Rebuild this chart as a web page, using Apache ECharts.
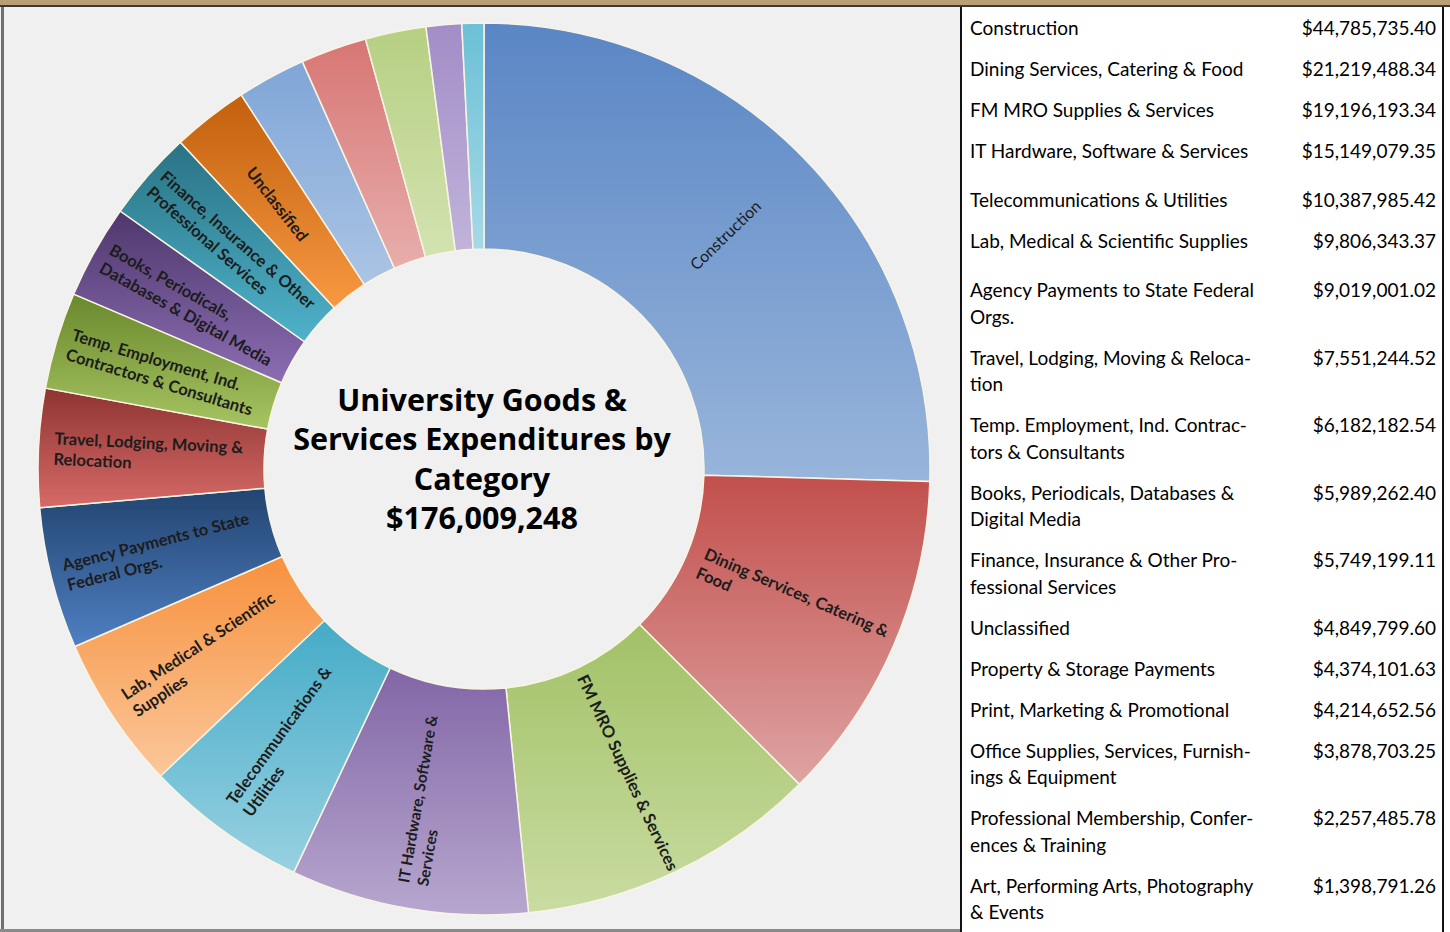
<!DOCTYPE html>
<html>
<head>
<meta charset="utf-8">
<script src="https://cdn.jsdelivr.net/npm/echarts@6/dist/echarts.min.js"></script>
<style>
  html, body { margin:0; padding:0; width:1450px; height:932px; overflow:hidden; background:#ffffff; }
  #chart { position:absolute; left:0; top:0; width:960px; height:932px; background:#f0f0f0; }
  .bar { position:absolute; }
  #table { position:absolute; left:962px; top:8px; width:480px; font-family:'Lato', sans-serif; font-size:19px; color:#000; }
  .row { display:flex; justify-content:space-between; padding:7px 6px 7.5px 8px; line-height:26.5px; }
  .row .lab { white-space:pre; }
  .row .val { text-align:right; }
</style>
</head>
<body>
<div id="chart"></div>
<div class="bar" style="left:0;top:0;width:1450px;height:5px;background:#b99e76;"></div>
<div class="bar" style="left:0;top:5px;width:1450px;height:2px;background:#3a3935;"></div>
<div class="bar" style="left:1px;top:7px;width:3px;height:925px;background:#707070;"></div>
<div class="bar" style="left:0;top:929px;width:960px;height:3px;background:#8a8a8a;"></div>
<div class="bar" style="left:960px;top:7px;width:2px;height:925px;background:#111;"></div>
<div class="bar" style="left:1442px;top:7px;width:2px;height:925px;background:#111;"></div>
<div id="table"></div>
<script>
// ---- data ----
const categories = [
  'Construction',
  'Dining Services, Catering & Food',
  'FM MRO Supplies & Services',
  'IT Hardware, Software & Services',
  'Telecommunications & Utilities',
  'Lab, Medical & Scientific Supplies',
  'Agency Payments to State Federal Orgs.',
  'Travel, Lodging, Moving & Relocation',
  'Temp. Employment, Ind. Contractors & Consultants',
  'Books, Periodicals, Databases & Digital Media',
  'Finance, Insurance & Other Professional Services',
  'Unclassified',
  'Property & Storage Payments',
  'Print, Marketing & Promotional',
  'Office Supplies, Services, Furnishings & Equipment',
  'Professional Membership, Conferences & Training',
  'Art, Performing Arts, Photography & Events'
];
const values = [
  44785735.40, 21219488.34, 19196193.34, 15149079.35, 10387985.42,
  9806343.37, 9019001.02, 7551244.52, 6182182.54, 5989262.40,
  5749199.11, 4849799.60, 4374101.63, 4214652.56, 3878703.25,
  2257485.78, 1398791.26
];
const sliceLabels = [
  'Construction',
  'Dining Services, Catering &\nFood',
  'FM MRO Supplies & Services',
  'IT Hardware, Software &\nServices',
  'Telecommunications &\nUtilities',
  'Lab, Medical & Scientific\nSupplies',
  'Agency Payments to State\nFederal Orgs.',
  'Travel, Lodging, Moving &\nRelocation',
  'Temp. Employment, Ind.\nContractors & Consultants',
  'Books, Periodicals,\nDatabases & Digital Media',
  'Finance, Insurance & Other\nProfessional Services',
  'Unclassified',
  '', '', '', '', ''
];
const tableLabels = [
  'Construction',
  'Dining Services, Catering & Food',
  'FM MRO Supplies & Services',
  'IT Hardware, Software & Services',
  'Telecommunications & Utilities',
  'Lab, Medical & Scientific Supplies',
  'Agency Payments to State Federal\nOrgs.',
  'Travel, Lodging, Moving & Reloca-\ntion',
  'Temp. Employment, Ind. Contrac-\ntors & Consultants',
  'Books, Periodicals, Databases &\nDigital Media',
  'Finance, Insurance & Other Pro-\nfessional Services',
  'Unclassified',
  'Property & Storage Payments',
  'Print, Marketing & Promotional',
  'Office Supplies, Services, Furnish-\nings & Equipment',
  'Professional Membership, Confer-\nences & Training',
  'Art, Performing Arts, Photography\n& Events'
];
const titleLines = ['University Goods &', 'Services Expenditures by', 'Category'];

// ---- styles ----
const palette = [
  ['#5a86c5', '#98b5db'],
  ['#c24f4c', '#dea4a3'],
  ['#a2c166', '#c9dca2'],
  ['#8266a6', '#b7a7cf'],
  ['#45abc7', '#98d1e1'],
  ['#f7913e', '#fbc79a'],
  ['#22446f', '#4f7fc3'],
  ['#8e3432', '#d66a67'],
  ['#6a892d', '#a6c461'],
  ['#4f386d', '#8b6db2'],
  ['#297384', '#4fb2ca'],
  ['#c2600d', '#f89841'],
  ['#7fa6d8', '#abc4e3'],
  ['#d77674', '#e7aeac'],
  ['#b6cf82', '#d3e3b1'],
  ['#a28dc7', '#c1b3da'],
  ['#6cc0d6', '#a6d9e7']
];
function labelRich(size, weight) {
  return { l: { fontFamily: 'Lato', fontWeight: weight, fontSize: size, lineHeight: size + 4, color: '#1c1c1c', align: 'left' } };
}
const labelSizes = { 0: [16, 'normal'], 3: [15.5, 'bold'] };

const total = values.reduce((a, b) => a + b, 0);
const totalText = '$' + Math.floor(total).toLocaleString('en-US');

const chart = echarts.init(document.getElementById('chart'), null, { renderer: 'svg' });
chart.setOption({
  backgroundColor: '#f0f0f0',
  animation: false,
  graphic: [{
    type: 'text',
    x: 482,
    y: 379,
    silent: true,
    style: {
      text: titleLines.concat([totalText]).join('\n'),
      align: 'center',
      verticalAlign: 'top',
      fontFamily: 'Open Sans',
      fontWeight: 'bold',
      fontSize: 30.5,
      lineHeight: 39.5,
      fill: '#000'
    }
  }],
  series: [{
    type: 'pie',
    center: [484, 469],
    radius: [220, 446],
    startAngle: 90,
    clockwise: true,
    avoidLabelOverlap: false,
    silent: true,
    itemStyle: { borderColor: '#f8f4e4', borderWidth: 1.5 },
    labelLine: { show: false },
    label: {
      show: true,
      position: 'inside',
      rotate: 'radial',
      formatter: p => sliceLabels[p.dataIndex].split('\n').map(s => '{l|' + s + '}').join('\n'),
      rich: labelRich(16.5, 'bold')
    },
    data: categories.map((c, i) => {
      const ls = labelSizes[i] || [16.5, 'bold'];
      return {
        name: c,
        value: values[i],
        itemStyle: {
          color: {
            type: 'linear', x: 0, y: 0, x2: 0, y2: 1,
            colorStops: [{ offset: 0, color: palette[i][0] }, { offset: 1, color: palette[i][1] }]
          }
        },
        label: { show: sliceLabels[i] !== '', rich: labelRich(ls[0], ls[1]) }
      };
    })
  }]
});

// ---- table ----
const tbl = document.getElementById('table');
categories.forEach((c, i) => {
  const row = document.createElement('div');
  row.className = 'row';
  if (i === 3 || i === 5) row.style.paddingBottom = '15.5px';
  const lab = document.createElement('div');
  lab.className = 'lab';
  lab.textContent = tableLabels[i];
  const val = document.createElement('div');
  val.className = 'val';
  val.textContent = '$' + values[i].toLocaleString('en-US', { minimumFractionDigits: 2, maximumFractionDigits: 2 });
  row.appendChild(lab);
  row.appendChild(val);
  tbl.appendChild(row);
});
</script>
</body>
</html>
